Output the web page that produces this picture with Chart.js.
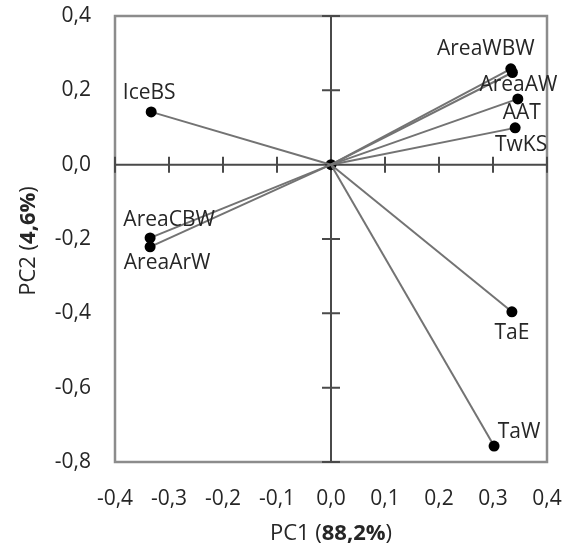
<!DOCTYPE html>
<html>
<head>
<meta charset="utf-8">
<script src="https://cdn.jsdelivr.net/npm/chart.js@4/dist/chart.umd.min.js"></script>
<style>
  html, body { margin: 0; padding: 0; background: #fff; }
  #wrap { width: 570px; height: 554px; }
</style>
</head>
<body>
<div id="wrap"><canvas id="chartPCA"></canvas></div>
<script>
// PCA loadings (PC1 vs PC2), one vector per variable from the origin
const variables = ['AreaWBW', 'AreaAW', 'AAT', 'TwKS', 'IceBS', 'AreaCBW', 'AreaArW', 'TaE', 'TaW'];
const pc1 = [0.333, 0.336, 0.346, 0.341, -0.333, -0.335, -0.335, 0.335, 0.302];
const pc2 = [0.258, 0.248, 0.177, 0.099, 0.142, -0.197, -0.221, -0.396, -0.757];

const xRange = [-0.4, 0.4];
const yRange = [-0.8, 0.4];
const xStep = 0.1;
const yStep = 0.2;

const xTitle = ['PC1 (', '88,2%', ')'];
const yTitle = ['PC2 (', '4,6%', ')'];

const FONT = '"Open Sans", "DejaVu Sans", sans-serif';
const TXT = '#262626';

// label offset from its point, in px (dx, dy of label centre)
const labelOffset = {
    AreaWBW: [-25, -20], AreaAW: [6, 13], AAT: [4, 14], TwKS: [6, 17],
    IceBS: [-2, -19], AreaCBW: [19, -18], AreaArW: [17, 16],
    TaE: [0, 21], TaW: [25, -14],
};

const fmt = (v) => (Math.round(v * 10) / 10).toFixed(1).replace('.', ',');

const datasets = variables.map((name, i) => ({
    label: name,
    data: [{ x: 0, y: 0 }, { x: pc1[i], y: pc2[i] }],
    showLine: true,
    borderColor: '#737373',
    borderWidth: 2,
    pointRadius: [0, 5.5],
    pointBackgroundColor: '#000',
    pointBorderWidth: 0,
}));
datasets.push({
    label: 'origin',
    data: [{ x: 0, y: 0 }],
    pointRadius: 5.5,
    pointBackgroundColor: '#000',
    pointBorderWidth: 0,
});

// box, zero axes with tick marks, point labels and axis titles
const pcaDecor = {
    id: 'pcaDecor',
    beforeDatasetsDraw(chart) {
        const { ctx, chartArea: a, scales: { x, y } } = chart;
        const x0 = x.getPixelForValue(0);
        const y0 = y.getPixelForValue(0);
        ctx.save();
        ctx.strokeStyle = '#8c8c8c';
        ctx.lineWidth = 2.5;
        ctx.strokeRect(a.left, a.top, a.right - a.left, a.bottom - a.top);

        ctx.strokeStyle = '#4a4a4a';
        ctx.lineWidth = 2;
        ctx.beginPath();
        ctx.moveTo(a.left, y0); ctx.lineTo(a.right, y0);
        ctx.moveTo(x0, a.top); ctx.lineTo(x0, a.bottom);
        x.ticks.forEach(t => {
            if (Math.abs(t.value) < 1e-9) return;
            const px = x.getPixelForValue(t.value);
            ctx.moveTo(px, y0 - 8); ctx.lineTo(px, y0 + 8);
        });
        y.ticks.forEach(t => {
            if (Math.abs(t.value) < 1e-9) return;
            const py = y.getPixelForValue(t.value);
            ctx.moveTo(x0 - 9, py); ctx.lineTo(x0 + 9, py);
        });
        ctx.stroke();
        ctx.restore();
    },
    afterDatasetsDraw(chart) {
        const { ctx } = chart;
        ctx.save();
        ctx.font = '21px ' + FONT;
        ctx.fillStyle = TXT;
        ctx.textAlign = 'center';
        ctx.textBaseline = 'middle';
        variables.forEach((name, i) => {
            const pt = chart.getDatasetMeta(i).data[1];
            const [dx, dy] = labelOffset[name];
            ctx.fillText(name, pt.x + dx, pt.y + dy);
        });
        ctx.restore();
    },
    afterDraw(chart) {
        const { ctx, chartArea: a } = chart;
        const drawTitle = (parts, cx, cy, rot) => {
            ctx.save();
            ctx.translate(cx, cy);
            ctx.rotate(rot);
            ctx.fillStyle = TXT;
            ctx.textBaseline = 'middle';
            ctx.textAlign = 'left';
            const fonts = ['22px ' + FONT, 'bold 22px ' + FONT, '22px ' + FONT];
            let w = 0;
            parts.forEach((p, k) => { ctx.font = fonts[k]; w += ctx.measureText(p).width; });
            let cur = -w / 2;
            parts.forEach((p, k) => {
                ctx.font = fonts[k];
                ctx.fillText(p, cur, 0);
                cur += ctx.measureText(p).width;
            });
            ctx.restore();
        };
        drawTitle(xTitle, (a.left + a.right) / 2, 534, 0);
        drawTitle(yTitle, 29, (a.top + a.bottom) / 2 + 2, -Math.PI / 2);
    },
};

new Chart(document.getElementById('chartPCA'), {
    type: 'scatter',
    data: { datasets },
    options: {
        responsive: true,
        maintainAspectRatio: false,
        animation: false,
        layout: { padding: { top: 16, right: 23, left: 0, bottom: 0 } },
        scales: {
            x: {
                min: xRange[0], max: xRange[1],
                grid: { display: false, drawTicks: false },
                border: { display: false },
                ticks: {
                    stepSize: xStep, padding: 24, color: TXT,
                    font: { family: FONT, size: 21 },
                    callback: (v) => fmt(v),
                },
                afterFit: (s) => { s.height = 92; s.paddingLeft = 0; s.paddingRight = 0; },
            },
            y: {
                min: yRange[0], max: yRange[1],
                grid: { display: false, drawTicks: false },
                border: { display: false },
                ticks: {
                    stepSize: yStep, padding: 24, color: TXT,
                    font: { family: FONT, size: 21 },
                    callback: (v) => fmt(v),
                },
                afterFit: (s) => { s.width = 115; s.paddingTop = 0; s.paddingBottom = 0; },
            },
        },
        plugins: {
            legend: { display: false },
            tooltip: { enabled: false },
        },
    },
    plugins: [pcaDecor],
});
</script>
</body>
</html>
